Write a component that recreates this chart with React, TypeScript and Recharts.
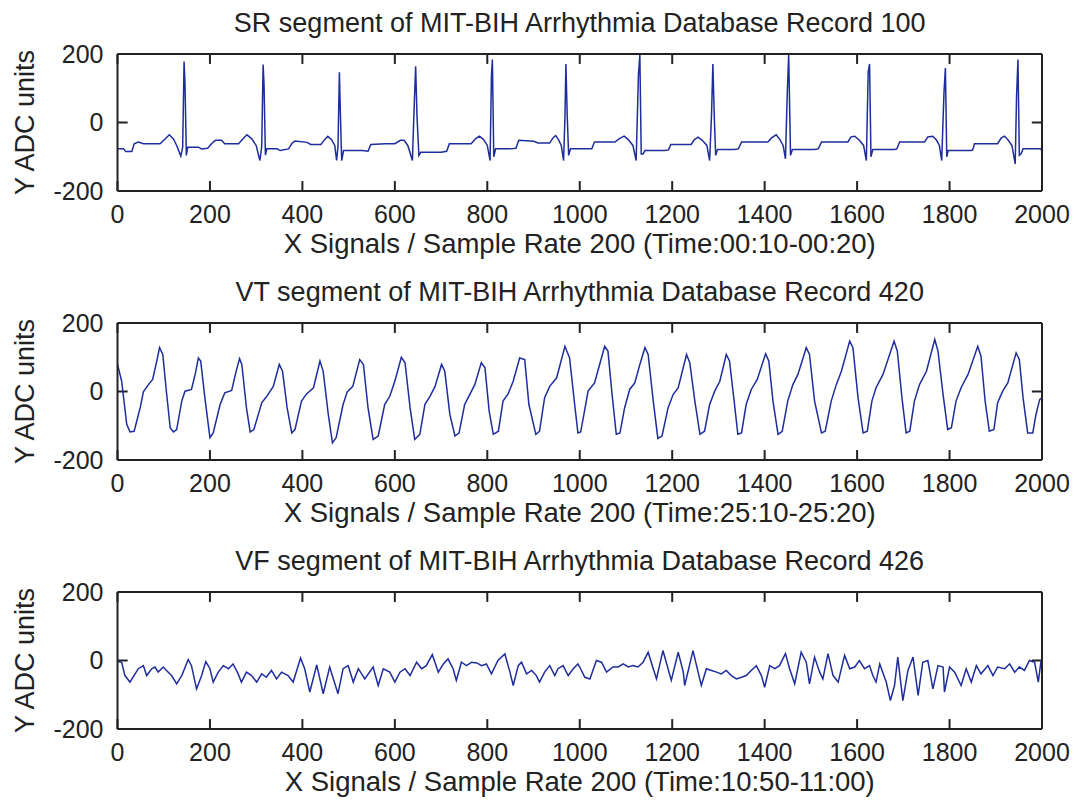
import React from 'react'
import { LineChart, Line, XAxis, YAxis, Label, ReferenceLine } from 'recharts'

// sample index / ADC value pairs
const SR_POINTS: [number, number][] = [
  [0, -77], [13, -77], [18, -85], [31, -85], [36, -62], [45, -57], [56, -62], [92, -62], [103, -48], [112, -36], [121, -48], [128, -67], [137, -98], [141, -72], [144, 178], [146, 113], [149, -96], [152, -72],
  [175, -72], [182, -77], [195, -75], [205, -60], [212, -52], [225, -52], [232, -62], [262, -62], [272, -47], [280, -36], [290, -47], [300, -67], [308, -111], [312, -70], [315, 169], [317, 110], [320, -95], [323, -77],
  [345, -77], [352, -82], [370, -77], [378, -60], [384, -54], [410, -58], [418, -64], [440, -64], [448, -50], [455, -40], [463, -50], [470, -67], [474, -111], [477, -70], [480, 147], [482, 35], [485, -111], [489, -82],
  [530, -82], [542, -84], [548, -64], [580, -62], [600, -62], [612, -52], [620, -52], [628, -67], [638, -111], [641, 15], [645, 164], [648, 15], [652, -96], [656, -87],
  [700, -87], [712, -84], [718, -62], [765, -62], [775, -47], [783, -40], [792, -50], [800, -67], [806, -111], [809, 137], [811, 184], [814, -100], [818, -77],
  [850, -77], [862, -75], [868, -52], [900, -55], [910, -60], [935, -60], [942, -45], [948, -38], [954, -50], [960, -67], [965, -111], [968, 15], [970, 171], [973, 15], [976, -96], [980, -77],
  [1018, -77], [1026, -77], [1032, -57], [1076, -57], [1085, -48], [1096, -40], [1105, -50], [1115, -67], [1122, -111], [1127, 140], [1130, 198], [1133, -92], [1137, -92], [1141, -82],
  [1184, -82], [1192, -80], [1197, -64], [1241, -64], [1248, -50], [1256, -43], [1265, -52], [1275, -67], [1281, -111], [1285, 20], [1288, 171], [1291, 20], [1294, -96], [1298, -79],
  [1335, -79], [1343, -77], [1350, -57], [1407, -57], [1415, -45], [1425, -36], [1433, -50], [1440, -67], [1445, -106], [1449, 88], [1452, 198], [1456, -96], [1460, -79],
  [1508, -79], [1516, -77], [1523, -57], [1580, -57], [1587, -42], [1595, -40], [1605, -52], [1614, -67], [1620, -111], [1624, 147], [1627, 171], [1630, -100], [1634, -79],
  [1681, -79], [1686, -77], [1692, -57], [1746, -57], [1753, -42], [1764, -40], [1772, -52], [1778, -67], [1783, -111], [1788, 88], [1791, 159], [1794, -100], [1797, -82],
  [1847, -82], [1850, -80], [1854, -62], [1904, -62], [1912, -45], [1919, -40], [1927, -52], [1935, -67], [1942, -121], [1945, 79], [1948, 184], [1951, -96], [1955, -91], [1959, -77],
  [1998, -77], [2000, -87],
]

const VT_POINTS: [number, number][] = [
  [0, 79], [9, 30], [20, -96], [27, -118], [36, -116], [49, -48], [56, -1], [67, 20], [76, 35], [85, 89], [91, 128], [98, 108], [106, -3], [114, -106],
  [121, -118], [128, -111], [139, -28], [146, 1], [160, 6], [168, 50], [175, 98], [180, 89], [189, -18], [200, -135],
  [207, -121], [222, -38], [232, -4], [247, 3], [256, 55], [264, 96], [269, 79], [279, -48], [287, -118],
  [295, -111], [312, -33], [323, -14], [337, 15], [350, 79], [357, 59], [367, -48], [377, -121],
  [384, -111], [398, -28], [409, -7], [424, 11], [438, 89], [445, 59], [456, -67], [465, -150],
  [473, -135], [488, -38], [497, -1], [509, 15], [524, 93], [532, 79], [542, -48], [553, -140],
  [564, -130], [578, -38], [589, -14], [600, 30], [614, 100], [622, 84], [633, -48], [643, -140],
  [654, -125], [665, -38], [676, -14], [687, 15], [701, 79], [708, 59], [719, -67], [730, -130],
  [739, -121], [751, -38], [762, -9], [773, 20], [787, 84], [795, 69], [804, -57], [813, -125],
  [824, -116], [834, -28], [845, -7], [856, 30], [870, 98], [881, 93], [890, -38], [905, -125],
  [913, -116], [924, -18], [935, 15], [950, 40], [968, 132], [978, 98], [989, -38], [996, -121],
  [1002, -118], [1009, -67], [1018, 1], [1032, 25], [1043, 79], [1054, 132], [1061, 118], [1070, -9], [1079, -125],
  [1087, -121], [1097, -48], [1108, 6], [1119, 25], [1130, 79], [1141, 128], [1148, 108], [1159, -28], [1169, -137],
  [1178, -130], [1191, -48], [1202, -9], [1213, 11], [1231, 108], [1238, 84], [1249, -28], [1260, -125],
  [1270, -116], [1281, -38], [1292, 1], [1303, 30], [1317, 108], [1324, 89], [1334, -28], [1342, -125],
  [1350, -121], [1360, -38], [1371, 6], [1384, 35], [1402, 110], [1409, 89], [1418, -28], [1429, -125],
  [1438, -116], [1450, -28], [1461, 20], [1472, 50], [1490, 128], [1497, 108], [1508, -28], [1523, -121],
  [1531, -116], [1544, -28], [1555, 20], [1566, 59], [1584, 147], [1591, 128], [1602, -18], [1613, -121],
  [1622, -116], [1632, -28], [1641, 11], [1656, 50], [1680, 147], [1687, 118], [1697, -18], [1706, -121],
  [1714, -116], [1724, -28], [1735, 20], [1750, 59], [1768, 152], [1775, 118], [1786, -9], [1796, -111],
  [1804, -106], [1814, -28], [1825, 11], [1840, 50], [1861, 132], [1868, 103], [1877, -28], [1886, -116],
  [1896, -111], [1904, -33], [1915, 1], [1926, 25], [1944, 113], [1951, 93], [1959, -18], [1969, -121],
  [1980, -121], [1987, -67], [1995, -23], [2000, -19],
]

const VF_POINTS: [number, number][] = [
  [0, -3], [9, -5], [16, -44], [27, -63], [38, -39], [45, -24], [56, -15], [63, -44], [74, -24], [81, -19], [88, -34], [99, -19], [106, -29], [117, -44], [128, -68], [139, -44], [153, 3], [160, -15], [171, -83], [182, -44], [191, -3], [200, -24],
  [207, -63], [218, -34], [229, -15], [240, -24], [250, -10], [261, -39], [268, -63], [279, -34], [290, -44], [301, -63], [312, -39], [322, -49], [333, -29], [344, -54], [355, -34], [369, -44], [380, -63], [396, 7], [405, -24],
  [416, -92], [431, -13], [445, -97], [459, -19], [477, -97], [488, -24], [499, -15], [510, -63], [521, -24], [535, -54], [553, -19], [564, -73], [575, -24], [589, -34], [600, -63], [611, -34], [622, -24], [633, -44],
  [647, -5], [658, -24], [668, -15], [681, 17], [694, -34], [705, -10], [715, 5], [726, -24], [733, -58], [744, -5], [755, -15], [766, -5], [777, -7], [788, -15], [798, -10], [809, -39],
  [823, 0], [838, 19], [849, -34], [856, -73], [867, -15], [874, -5], [885, -39], [896, -29], [906, -44], [913, -63], [924, -34], [935, -15], [946, -44], [953, -24], [964, -15], [975, -44], [986, -24], [996, -10],
  [1000, -19], [1011, -49], [1022, -54], [1036, 0], [1047, -5], [1058, -34], [1072, -19], [1083, -19], [1094, -10], [1105, -19], [1115, -15], [1126, -19], [1137, -5], [1148, 24], [1159, -24], [1166, -54],
  [1180, 29], [1191, -24], [1198, -58], [1213, 24], [1224, -34], [1227, -73], [1245, 29], [1256, -34], [1263, -73], [1274, -24], [1285, -29], [1296, -34], [1306, -39], [1317, -29], [1328, -44], [1339, -54],
  [1350, -49], [1360, -44], [1371, -29], [1382, -15], [1393, -44], [1400, -78], [1411, -15], [1422, -24], [1432, -15], [1445, 20], [1454, -24], [1465, -68], [1479, 24], [1490, -5], [1497, -68], [1508, 10],
  [1519, -34], [1526, -54], [1537, 20], [1548, -44], [1559, -63], [1573, 15], [1584, -24], [1595, -19], [1605, 0], [1616, -24], [1627, -15], [1634, -44], [1641, -63], [1649, -10], [1663, -63], [1672, -117],
  [1681, -73], [1688, 10], [1699, -117], [1710, -29], [1721, 10], [1732, -102], [1742, -5], [1753, 0], [1764, -83], [1775, -15], [1786, -19], [1789, -92], [1800, -19], [1811, -34], [1825, -73], [1836, -24],
  [1847, -63], [1858, -15], [1868, -39], [1883, -15], [1894, -44], [1904, -19], [1919, -24], [1930, -10], [1941, -34], [1951, -19], [1962, -29], [1973, 0], [1984, -5], [1992, -63], [1998, 0],
]

const X_TICKS = [0, 200, 400, 600, 800, 1000, 1200, 1400, 1600, 1800, 2000]
const Y_TICKS = [-200, 0, 200]
const X_DOMAIN: [number, number] = [0, 2000]
const Y_DOMAIN: [number, number] = [-200, 200]

const TITLES = [
  'SR segment of MIT-BIH Arrhythmia Database Record 100',
  'VT segment of MIT-BIH Arrhythmia Database Record 420',
  'VF segment of MIT-BIH Arrhythmia Database Record 426',
]
const X_LABELS = [
  'X Signals / Sample Rate 200 (Time:00:10-00:20)',
  'X Signals / Sample Rate 200 (Time:25:10-25:20)',
  'X Signals / Sample Rate 200 (Time:10:50-11:00)',
]
const Y_LABEL = 'Y ADC units'

const FONT = '"Liberation Sans", Arial, sans-serif'
const INK = '#222'
const TRACE = '#1e2d9c'
// inward tick length, in axis units (~10px on a 925x137 plot)
const TICK_DX = 22
const TICK_DY = 29

function Panel({ top, title, xLabel, points }: { top: number; title: string; xLabel: string; points: [number, number][] }) {
  const data = points.map(([x, y]) => ({ x, y }))
  const lineStyle = { stroke: INK, strokeWidth: 2 }
  const tickStyle = { fontSize: 25, fill: INK, fontFamily: FONT }
  const [x0, x1] = X_DOMAIN
  const [y0, y1] = Y_DOMAIN

  const tickMark = (key: string, a: { x: number; y: number }, b: { x: number; y: number }) => (
    <ReferenceLine
      key={key}
      xAxisId="bottom"
      yAxisId="left"
      segment={[a, b]}
      stroke={INK}
      strokeWidth={2}
      ifOverflow="visible"
    />
  )

  return (
    <div style={{ position: 'absolute', left: 0, top }}>
      <LineChart width={1079} height={266} data={data} margin={{ top: 53, right: 36, bottom: 0, left: 0 }}>
        <XAxis
          xAxisId="bottom"
          dataKey="x"
          type="number"
          domain={X_DOMAIN}
          ticks={X_TICKS}
          interval={0}
          height={75}
          tickSize={0}
          tickMargin={14}
          axisLine={lineStyle}
          tickLine={false}
          tick={tickStyle}
        >
          <Label value={xLabel} position="insideBottom" offset={13} fontSize={27.5} fill={INK} fontFamily={FONT} />
        </XAxis>
        <XAxis
          xAxisId="top"
          orientation="top"
          type="number"
          domain={X_DOMAIN}
          ticks={X_TICKS}
          height={1}
          axisLine={lineStyle}
          tickLine={false}
          tick={false}
        >
          <Label
            content={({ viewBox }: any) => (
              <text
                x={viewBox.x + viewBox.width / 2}
                y={viewBox.y + viewBox.height - 22}
                textAnchor="middle"
                fontSize={27}
                fill={INK}
                fontFamily={FONT}
              >
                {title}
              </text>
            )}
          />
        </XAxis>
        <YAxis
          yAxisId="left"
          type="number"
          domain={Y_DOMAIN}
          ticks={Y_TICKS}
          interval={0}
          width={117.5}
          tickSize={0}
          tickMargin={14}
          axisLine={lineStyle}
          tickLine={false}
          tick={tickStyle}
        >
          <Label
            content={({ viewBox }: any) => {
              const cx = viewBox.x + 34
              const cy = viewBox.y + viewBox.height / 2
              return (
                <text
                  x={cx}
                  y={cy}
                  transform={`rotate(-90 ${cx} ${cy})`}
                  textAnchor="middle"
                  fontSize={27}
                  fill={INK}
                  fontFamily={FONT}
                >
                  {Y_LABEL}
                </text>
              )
            }}
          />
        </YAxis>
        <YAxis
          yAxisId="right"
          orientation="right"
          type="number"
          domain={Y_DOMAIN}
          ticks={Y_TICKS}
          width={1}
          axisLine={lineStyle}
          tickLine={false}
          tick={false}
        />

        {/* matlab style inward ticks on all four sides */}
        {X_TICKS.map((t) => tickMark(`b${t}`, { x: t, y: y0 }, { x: t, y: y0 + TICK_DY }))}
        {X_TICKS.map((t) => tickMark(`t${t}`, { x: t, y: y1 }, { x: t, y: y1 - TICK_DY }))}
        {Y_TICKS.map((t) => tickMark(`l${t}`, { x: x0, y: t }, { x: x0 + TICK_DX, y: t }))}
        {Y_TICKS.map((t) => tickMark(`r${t}`, { x: x1 - TICK_DX, y: t }, { x: x1, y: t }))}

        <Line
          xAxisId="bottom"
          yAxisId="left"
          dataKey="y"
          type="linear"
          stroke={TRACE}
          strokeWidth={1.5}
          dot={false}
          activeDot={false}
          isAnimationActive={false}
        />
      </LineChart>
    </div>
  )
}

export default function App() {
  const series = [SR_POINTS, VT_POINTS, VF_POINTS]
  return (
    <div style={{ position: 'absolute', left: 0, top: 0, width: 1079, height: 804, background: '#fff', overflow: 'hidden', fontFamily: FONT }}>
      {series.map((pts, i) => (
        <Panel key={i} top={i * 269} title={TITLES[i]} xLabel={X_LABELS[i]} points={pts} />
      ))}
    </div>
  )
}
